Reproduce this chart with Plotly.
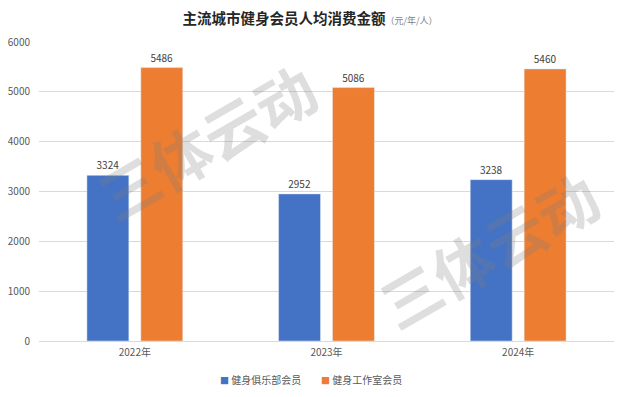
import plotly.graph_objects as go

categories = ["2022年", "2023年", "2024年"]
club_values = [3324, 2952, 3238]
studio_values = [5486, 5086, 5460]
series_names = ["健身俱乐部会员", "健身工作室会员"]
series_colors = ["#4472C4", "#ED7D31"]
y_ticks = [0, 1000, 2000, 3000, 4000, 5000, 6000]
watermark_text = "三体云动"

FONT = "Noto Sans CJK SC"

fig = go.Figure()
for name, vals, col in zip(series_names, [club_values, studio_values], series_colors):
    fig.add_trace(go.Bar(
        x=categories, y=vals, name=name,
        marker=dict(color=col),
        text=[str(v) for v in vals], textposition="outside",
        textfont=dict(size=10, color="#404040", family=FONT), cliponaxis=False,
        showlegend=False,
    ))

# watermark (drawn over the bars, as in the reference)
for wx, wy in [(0.29, 0.67), (0.78, 0.31)]:
    fig.add_annotation(
        text="<b>" + watermark_text + "</b>", xref="paper", yref="paper",
        x=wx, y=wy, xanchor="center", yanchor="middle", showarrow=False, textangle=-30,
        font=dict(size=60, color="rgba(128,128,128,0.26)", family=FONT),
    )

# legend, drawn as text items
legend_x = [0.385, 0.56]
for name, col, lx in zip(series_names, series_colors, legend_x):
    fig.add_annotation(
        text=f"<span style='color:{col};font-size:9px'>■</span> {name}",
        xref="paper", yref="paper", x=lx, y=-0.13, xanchor="center", yanchor="middle",
        showarrow=False, font=dict(size=10, color="#595959", family=FONT),
    )

fig.update_layout(
    width=620, height=389,
    margin=dict(l=31, r=14, t=34, b=56),
    paper_bgcolor="white", plot_bgcolor="white",
    font=dict(family=FONT, size=10, color="#595959"),
    barmode="group", bargap=0.4375, bargroupgap=0.222,
    showlegend=False,
    title=dict(
        text="<b>主流城市健身会员人均消费金额</b><span style='font-size:9px;color:#7f7f7f'>（元/年/人）</span>",
        x=0.487, xanchor="center", yref="container", y=0.971, yanchor="middle",
        font=dict(size=14.5, color="#262626", family=FONT), automargin=False,
    ),
    xaxis=dict(showgrid=False, showline=True, linecolor="#d9d9d9", ticks="",
               tickfont=dict(size=10, color="#595959"), automargin=False,
               ticklabelstandoff=2),
    yaxis=dict(range=[0, 6000], tickvals=y_ticks, showgrid=True, gridcolor="#d9d9d9",
               zeroline=False, ticks="", tickfont=dict(size=10, color="#595959"),
               ticklabelstandoff=8, automargin=False),
)

fig.write_html("out.html")
